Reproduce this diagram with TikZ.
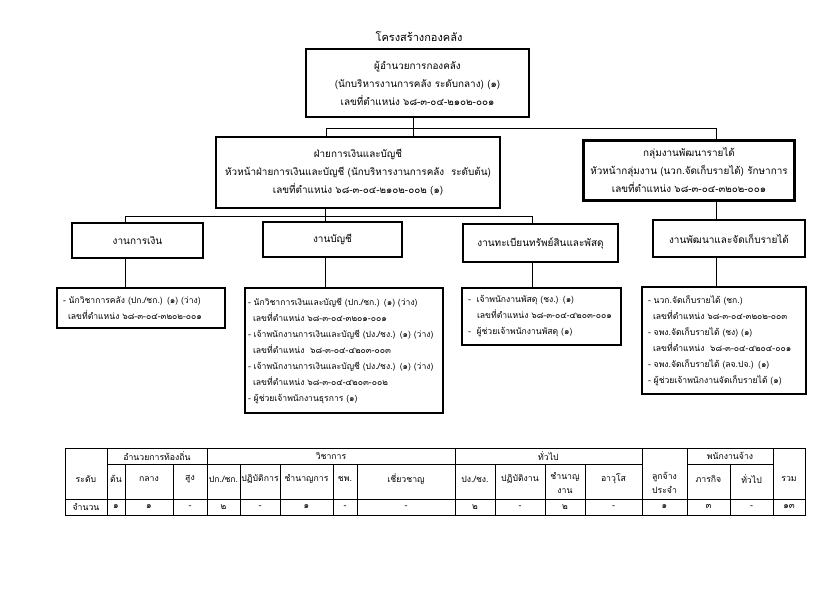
\documentclass[tikz,border=0pt]{standalone}
\usepackage{fontspec}
\newfontfamily\thai[Script=Thai]{Loma}
\begin{document}
\begin{tikzpicture}[x=1pt,y=1pt,
  box/.style={draw, line width=2.8pt, align=center, inner sep=0pt, font=\thai\fontsize{9.9}{18}\selectfont},
  unitbox/.style={draw, line width=2.8pt, align=center, inner sep=0pt, font=\thai\fontsize{10}{12}\selectfont},
  listbox/.style={draw, line width=2.8pt, align=left, inner xsep=6pt, inner ysep=0pt, font=\thai\fontsize{8.6}{16}\selectfont},
  conn/.style={line width=1pt},
  tbl/.style={line width=0.6pt},
  cell/.style={inner sep=0pt, align=center, font=\thai\fontsize{8.7}{14}\selectfont}]
\fill[white] (0,0) rectangle (840,-594);
\useasboundingbox (0,0) rectangle (840,-594);

\node[inner sep=0pt, font=\thai\fontsize{11}{13}\selectfont] (title) at (419,-37) {โครงสร้างกองคลัง};

\node[box, minimum width=223, minimum height=68] (dir) at (417.5,-83)
 {ผู้อำนวยการกองคลัง\\(นักบริหารงานการคลัง ระดับกลาง) (๑)\\เลขที่ตำแหน่ง ๖๘-๓-๐๔-๒๑๐๒-๐๐๑};

\node[box, minimum width=284, minimum height=71] (fin) at (358,-172.5)
 {ฝ่ายการเงินและบัญชี\\หัวหน้าฝ่ายการเงินและบัญชี (นักบริหารงานการคลัง~~ระดับต้น)\\เลขที่ตำแหน่ง ๖๘-๓-๐๔-๒๑๐๒-๐๐๒ (๑)};

\node[box, minimum width=211, minimum height=60] (rev) at (689,-170.5)
 {กลุ่มงานพัฒนารายได้\\หัวหน้ากลุ่มงาน (นวก.จัดเก็บรายได้) รักษาการ\\เลขที่ตำแหน่ง ๖๘-๓-๐๔-๓๒๐๒-๐๐๑};

\node[unitbox, minimum width=131, minimum height=35] (fin1) at (137.5,-240.5) {งานการเงิน};
\node[unitbox, minimum width=139, minimum height=35] (acc) at (332.5,-239.5) {งานบัญชี};
\node[unitbox, minimum width=155, minimum height=38] (asset) at (540.5,-243) {งานทะเบียนทรัพย์สินและพัสดุ};
\node[unitbox, minimum width=152, minimum height=37] (dev) at (729,-238.5) {งานพัฒนาและจัดเก็บรายได้};

\node[listbox, text width=156, minimum height=40] (l1) at (141,-308)
 {- นักวิชาการคลัง (ปก./ชก.) (๑) (ว่าง)\\\hspace*{5pt}เลขที่ตำแหน่ง ๖๘-๓-๐๔-๓๒๐๒-๐๐๑};

\node[listbox, inner xsep=3pt, text width=192, minimum height=125] (l2) at (344,-350.5)
 {- นักวิชาการเงินและบัญชี (ปก./ชก.) (๑) (ว่าง)\\
  \hspace*{5pt}เลขที่ตำแหน่ง ๖๘-๓-๐๔-๓๒๐๑-๐๐๑\\
  - เจ้าพนักงานการเงินและบัญชี (ปง./ชง.) (๑) (ว่าง)\\
  \hspace*{5pt}เลขที่ตำแหน่ง~ ๖๘-๓-๐๔-๔๒๐๓-๐๐๓\\
  - เจ้าพนักงานการเงินและบัญชี (ปง./ชง.) (๑) (ว่าง)\\
  \hspace*{5pt}เลขที่ตำแหน่ง ๖๘-๓-๐๔-๔๒๐๓-๐๐๒\\
  - ผู้ช่วยเจ้าพนักงานธุรการ (๑)};

\node[listbox, text width=147, minimum height=57] (l3) at (541.5,-316.5)
 {-~ เจ้าพนักงานพัสดุ (ชง.) (๑)\\
  \hspace*{9pt}เลขที่ตำแหน่ง ๖๘-๓-๐๔-๔๒๐๓-๐๐๑\\
  -~ ผู้ช่วยเจ้าพนักงานพัสดุ (๑)};

\node[listbox, text width=152, minimum height=107] (l4) at (724,-340.5)
 {- นวก.จัดเก็บรายได้ (ชก.)\\
  \hspace*{5pt}เลขที่ตำแหน่ง ๖๘-๓-๐๔-๓๒๐๒-๐๐๓\\
  - จพง.จัดเก็บรายได้ (ชง) (๑)\\
  \hspace*{5pt}เลขที่ตำแหน่ง~ ๖๘-๓-๐๔-๔๒๐๔-๐๐๑\\
  - จพง.จัดเก็บรายได้ (ลจ.ปจ.) (๑)\\
  - ผู้ช่วยเจ้าพนักงานจัดเก็บรายได้ (๑)};

% connectors level 1-2
\coordinate (t1) at (413,-128);
\coordinate (hL) at (326,-128);
\coordinate (hR) at (716,-128);
\draw[conn] (dir.south -| t1) -- (fin.north -| t1);
\draw[conn] (hL |- fin.north) -- (hL) -- (hR) -- (hR |- rev.north);
\draw[conn] (rev.south -| hR) -- (hR |- dev.north);
% level 3
\coordinate (m) at (325,-216);
\coordinate (mL) at (125,-216);
\coordinate (mR) at (532,-216);
\draw[conn] (fin.south -| m) -- (m);
\draw[conn] (mL |- fin1.north) -- (mL) -- (mR) -- (mR |- asset.north);
\draw[conn] (m) -- (m |- acc.north);
\draw[conn] (fin1.south -| mL) -- (mL |- l1.north);
\draw[conn] (acc.south -| m) -- (m |- l2.north);
\draw[conn] (asset.south -| mR) -- (mR |- l3.north);
\draw[conn] (dev.south -| hR) -- (hR |- l4.north);

% table
\draw[tbl] (65,-448) rectangle (805,-515);
\draw[tbl] (107,-464) -- (642,-464);
\draw[tbl] (687,-464) -- (773,-464);
\draw[tbl] (65,-499) -- (805,-499);
\foreach \x in {107,207,455,642,687,773} \draw[tbl] (\x,-448) -- (\x,-515);
\foreach \x in {125,173,240,280,333,357,495,545,585,730} \draw[tbl] (\x,-464) -- (\x,-515);

\node[cell] (g1) at (157,-456) {อำนวยการท้องถิ่น};
\node[cell] (g2) at (331,-456) {วิชาการ};
\node[cell] (g3) at (548.5,-456) {ทั่วไป};
\node[cell] (g4) at (730,-456) {พนักงานจ้าง};
\node[cell] (hlev) at (86,-479) {ระดับ};
\node[cell] (hemp) at (664.5,-483) {ลูกจ้าง\\ประจำ};
\node[cell] (htot) at (789,-479) {รวม};
\node[cell] (h1) at (116,-479) {ต้น};
\node[cell] (h2) at (149,-479) {กลาง};
\node[cell] (h3) at (190,-479) {สูง};
\node[cell] (h4) at (223.5,-479) {ปก./ชก.};
\node[cell] (h5) at (260,-479) {ปฏิบัติการ};
\node[cell] (h6) at (306.5,-479) {ชำนาญการ};
\node[cell] (h7) at (345,-479) {ชพ.};
\node[cell] (h8) at (406,-479) {เชี่ยวชาญ};
\node[cell] (h9) at (475,-479) {ปง./ชง.};
\node[cell] (h10) at (520,-479) {ปฏิบัติงาน};
\node[cell] (h11) at (565,-483) {ชำนาญ\\งาน};
\node[cell] (h12) at (613.5,-479) {อาวุโส};
\node[cell] (h13) at (708.5,-479) {ภารกิจ};
\node[cell] (h14) at (751.5,-479) {ทั่วไป};

\node[cell] (dlev) at (86,-507) {จำนวน};
\node[cell] (d1) at (116,-507) {๑};
\node[cell] (d2) at (149,-507) {๑};
\node[cell] (d3) at (190,-507) {-};
\node[cell] (d4) at (223.5,-507) {๒};
\node[cell] (d5) at (260,-507) {-};
\node[cell] (d6) at (306.5,-507) {๑};
\node[cell] (d7) at (345,-507) {-};
\node[cell] (d8) at (406,-507) {-};
\node[cell] (d9) at (475,-507) {๒};
\node[cell] (d10) at (520,-507) {-};
\node[cell] (d11) at (565,-507) {๒};
\node[cell] (d12) at (613.5,-507) {-};
\node[cell] (demp) at (664.5,-507) {๑};
\node[cell] (d13) at (708.5,-507) {๓};
\node[cell] (d14) at (751.5,-507) {-};
\node[cell] (dtot) at (789,-507) {๑๓};
\end{tikzpicture}
\end{document}
